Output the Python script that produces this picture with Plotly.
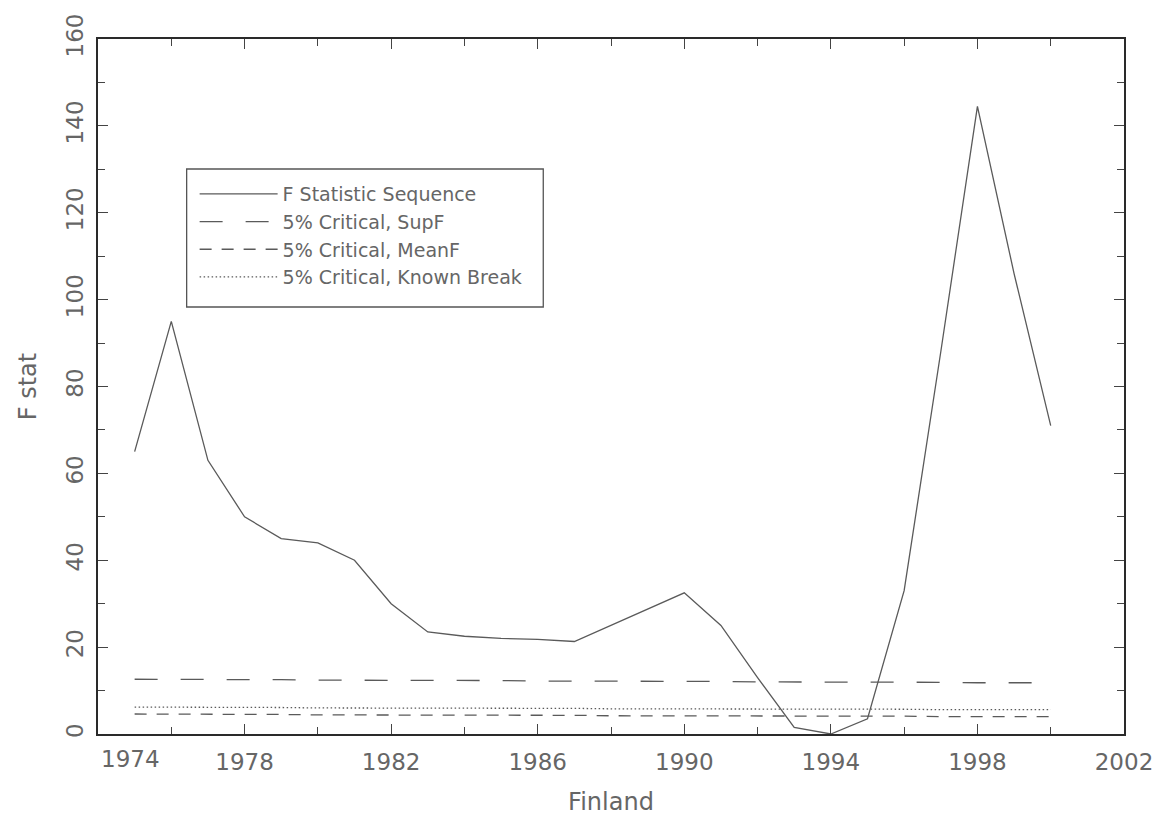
import plotly.graph_objects as go

# Break-test sequence for Finland, one value per candidate break year
years = list(range(1975, 2001))
f_stat = [65.0, 95.0, 63.0, 50.0, 45.0, 44.0, 40.0, 30.0, 23.5, 22.5,
          22.0, 21.8, 21.3, 25.0, 28.8, 32.5, 25.0, 13.0, 1.5, 0.0,
          3.5, 33.0, 88.0, 144.5, 106.0, 71.0]
crit_supf = [12.6, 12.6, 12.5, 12.5, 12.5, 12.4, 12.4, 12.4, 12.3, 12.3,
             12.3, 12.2, 12.2, 12.2, 12.1, 12.1, 12.1, 12.0, 12.0, 12.0,
             11.9, 11.9, 11.9, 11.8, 11.8, 11.8]
crit_meanf = [4.6, 4.6, 4.5, 4.5, 4.5, 4.4, 4.4, 4.4, 4.4, 4.3,
              4.3, 4.3, 4.3, 4.2, 4.2, 4.2, 4.2, 4.2, 4.1, 4.1,
              4.1, 4.1, 4.0, 4.0, 4.0, 4.0]
crit_known = [6.2, 6.2, 6.1, 6.1, 6.1, 6.0, 6.0, 6.0, 6.0, 5.9,
              5.9, 5.9, 5.9, 5.8, 5.8, 5.8, 5.8, 5.8, 5.7, 5.7,
              5.7, 5.7, 5.6, 5.6, 5.6, 5.6]

x_ticks = [1974, 1978, 1982, 1986, 1990, 1994, 1998, 2002]
x_tick_text = ["", "1978", "1982", "1986", "1990", "1994", "1998", "2002"]
y_ticks = [0, 20, 40, 60, 80, 100, 120, 140, 160]

LINE = "#5a5a5a"
TEXT = "#666666"
FONT = "DejaVu Sans, sans-serif"

# plot-area geometry in pixels
W, H = 1165, 823
ML, MR, MT, MB = 98, 37, 39, 89
PW, PH = W - ML - MR, H - MT - MB


def px_x(p):
    return (p - ML) / PW


def px_y(p):
    return 1 - (p - MT) / PH


fig = go.Figure()
fig.add_trace(go.Scatter(x=years, y=f_stat, mode="lines",
                         name="F Statistic Sequence",
                         line=dict(color=LINE, width=1.3)))
fig.add_trace(go.Scatter(x=years, y=crit_supf, mode="lines",
                         name="5% Critical, SupF",
                         line=dict(color=LINE, width=1.3, dash="23px,23px")))
fig.add_trace(go.Scatter(x=years, y=crit_meanf, mode="lines",
                         name="5% Critical, MeanF",
                         line=dict(color=LINE, width=1.3, dash="12px,10px")))
fig.add_trace(go.Scatter(x=years, y=crit_known, mode="lines",
                         name="5% Critical, Known Break",
                         line=dict(color=LINE, width=1.3, dash="1.5px,2.5px")))

axis_common = dict(
    showline=True, mirror="ticks", linecolor="#2a2a2a", linewidth=2,
    ticks="inside", tickcolor="#444444", tickwidth=1.2,
    showgrid=False, zeroline=False,
    tickfont=dict(family=FONT, size=23, color=TEXT),
)

fig.update_layout(
    width=W, height=H,
    margin=dict(l=ML, r=MR, t=MT, b=MB),
    paper_bgcolor="white", plot_bgcolor="white",
    showlegend=True,
    legend=dict(
        x=px_x(195), y=px_y(175), xanchor="left", yanchor="top",
        borderwidth=0, bgcolor="rgba(0,0,0,0)",
        font=dict(family=FONT, size=19, color=TEXT),
        itemwidth=78,
    ),
    xaxis=dict(
        range=[1974, 2002], tickvals=x_ticks, ticktext=x_tick_text,
        ticklen=10, ticklabelstandoff=6,
        minor=dict(tick0=1974, dtick=2, ticks="inside", ticklen=7,
                   tickcolor="#444444", tickwidth=1.2),
        title=dict(text="Finland", standoff=20,
                   font=dict(family=FONT, size=24, color=TEXT)),
        **axis_common,
    ),
    yaxis=dict(
        range=[0, 160], tickvals=y_ticks, tickangle=-90, ticklen=10,
        ticklabelstandoff=4,
        minor=dict(tick0=0, dtick=10, ticks="inside", ticklen=7,
                   tickcolor="#444444", tickwidth=1.2),
        title=dict(text="F stat", standoff=18,
                   font=dict(family=FONT, size=24, color=TEXT)),
        **axis_common,
    ),
)

# frame around the legend
fig.add_shape(type="rect", xref="paper", yref="paper",
              x0=px_x(187), x1=px_x(545), y0=px_y(307), y1=px_y(169),
              line=dict(color="#555555", width=1.3), fillcolor="rgba(0,0,0,0)",
              layer="below")

# first year label sits just right of the corner
fig.add_annotation(x=1974.88, y=0, xref="x", yref="paper", yanchor="top",
                   showarrow=False, yshift=-10, text="1974",
                   font=dict(family=FONT, size=23, color=TEXT))

fig.write_html("out.html")
